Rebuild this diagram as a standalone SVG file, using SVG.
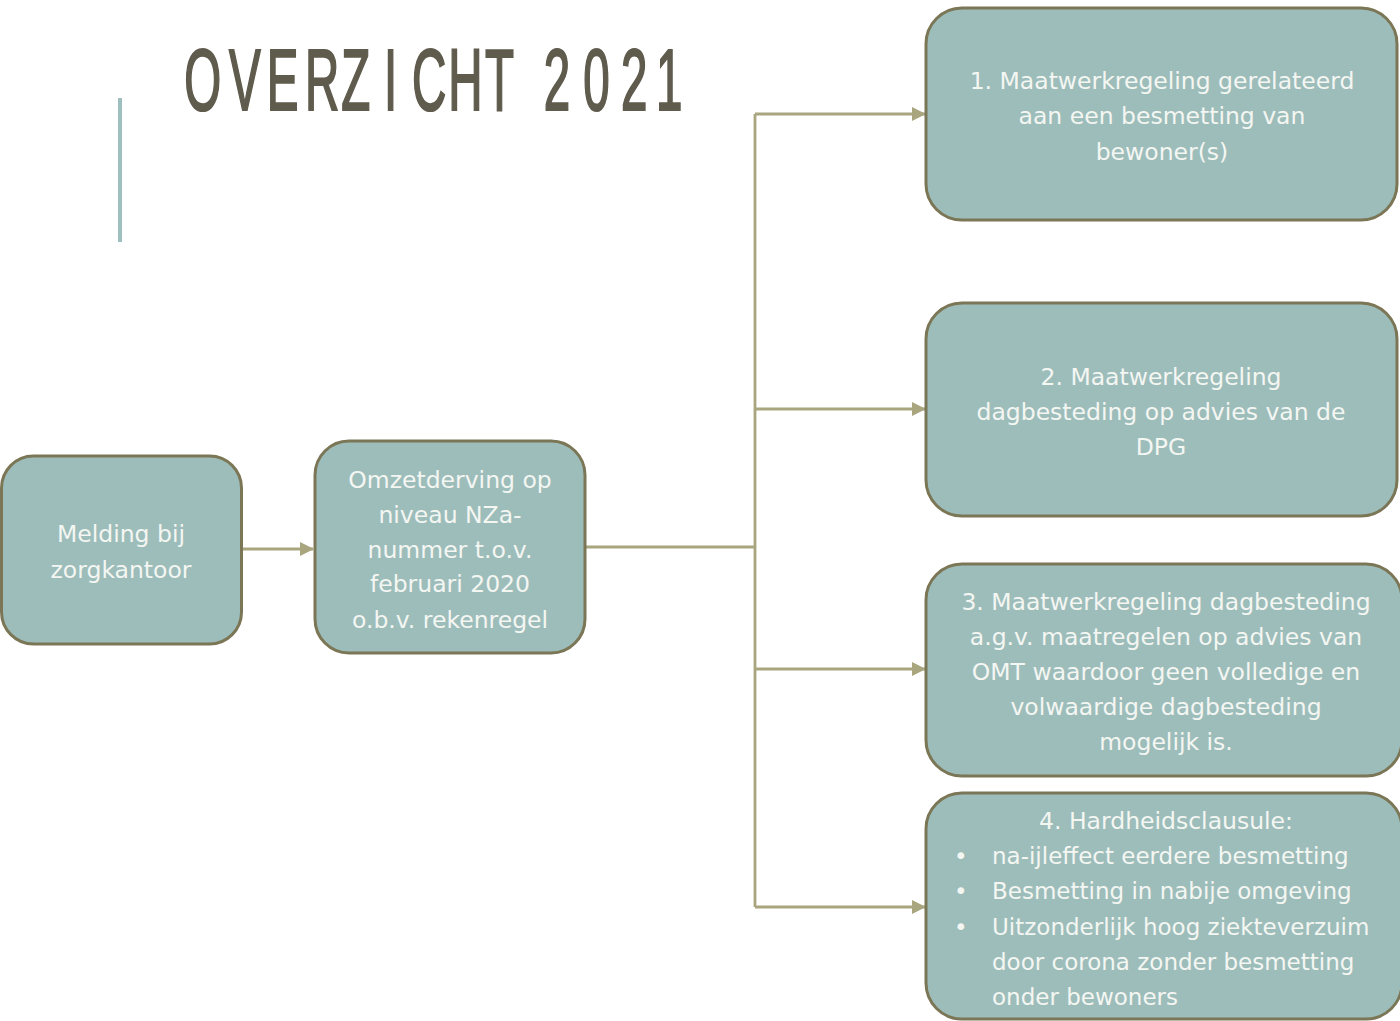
<svg xmlns="http://www.w3.org/2000/svg" width="1400" height="1021" viewBox="0 0 1400 1021">
<style>
.box{fill:#9dbdbb;stroke:#7b7656;stroke-width:3}
.t{font-family:"DejaVu Sans","Liberation Sans",sans-serif;font-size:23.5px;fill:#f4f6f2;text-anchor:middle}
.tl{font-family:"DejaVu Sans","Liberation Sans",sans-serif;font-size:23px;fill:#f4f6f2}
.c{fill:none;stroke:#a8a57f;stroke-width:2.8}
</style>
<defs>
<marker id="ah" markerWidth="14" markerHeight="14" refX="13" refY="7" orient="auto" markerUnits="userSpaceOnUse" viewBox="0 0 14 14">
<path d="M0,0 L14,7 L0,14 z" fill="#a8a57f"/>
</marker>
</defs>
<rect width="1400" height="1021" fill="#ffffff"/>
<g transform="scale(0.54,1)">
<text y="110" x="341 424 494 565 632 711 763 830 898 960 1007 1080 1150 1215" font-family="'Liberation Sans',Arial,sans-serif" font-size="88" fill="#5f5b4d" stroke="#5f5b4d" stroke-width="2.2">OVERZICHT 2021</text>
</g>
<rect x="118" y="98" width="4" height="144" fill="#9dbfbd"/>
<g id="connectors">
<path class="c" d="M241,549 H313" marker-end="url(#ah)"/>
<path class="c" d="M585,547 H755"/>
<path class="c" d="M755,114 V907"/>
<path class="c" d="M755,114 H925" marker-end="url(#ah)"/>
<path class="c" d="M755,409 H925" marker-end="url(#ah)"/>
<path class="c" d="M755,669 H925" marker-end="url(#ah)"/>
<path class="c" d="M755,907 H925" marker-end="url(#ah)"/>
</g>
<g id="melding">
<rect class="box" x="1.5" y="456" width="240" height="188" rx="32"/>
<text class="t" x="121" y="542">Melding bij</text>
<text class="t" x="121" y="578">zorgkantoor</text>
</g>
<g id="omzetderving">
<rect class="box" x="315" y="441" width="270" height="212" rx="34"/>
<text class="t" x="450" y="488">Omzetderving op</text>
<text class="t" x="450" y="523">niveau NZa-</text>
<text class="t" x="450" y="558">nummer t.o.v.</text>
<text class="t" x="450" y="592">februari 2020</text>
<text class="t" x="450" y="628">o.b.v. rekenregel</text>
</g>
<g id="regeling1">
<rect class="box" x="926" y="8" width="471" height="212" rx="36"/>
<text class="t" x="1162" y="89">1. Maatwerkregeling gerelateerd</text>
<text class="t" x="1162" y="124">aan een besmetting van</text>
<text class="t" x="1162" y="160">bewoner(s)</text>
</g>
<g id="regeling2">
<rect class="box" x="926" y="303" width="471" height="213" rx="36"/>
<text class="t" x="1161" y="385">2. Maatwerkregeling</text>
<text class="t" x="1161" y="420">dagbesteding op advies van de</text>
<text class="t" x="1161" y="455">DPG</text>
</g>
<g id="regeling3">
<rect class="box" x="926" y="564" width="476" height="212" rx="36"/>
<text class="t" x="1166" y="610">3. Maatwerkregeling dagbesteding</text>
<text class="t" x="1166" y="645">a.g.v. maatregelen op advies van</text>
<text class="t" x="1166" y="680">OMT waardoor geen volledige en</text>
<text class="t" x="1166" y="715">volwaardige dagbesteding</text>
<text class="t" x="1166" y="750">mogelijk is.</text>
</g>
<g id="hardheidsclausule">
<rect class="box" x="926" y="793" width="476" height="226" rx="36"/>
<text class="t" x="1166" y="829">4. Hardheidsclausule:</text>
<text class="tl" x="954" y="864">•</text>
<text class="tl" x="992" y="864">na-ijleffect eerdere besmetting</text>
<text class="tl" x="954" y="899">•</text>
<text class="tl" x="992" y="899">Besmetting in nabije omgeving</text>
<text class="tl" x="954" y="935">•</text>
<text class="tl" x="992" y="935">Uitzonderlijk hoog ziekteverzuim</text>
<text class="tl" x="992" y="970">door corona zonder besmetting</text>
<text class="tl" x="992" y="1005">onder bewoners</text>
</g>
</svg>
